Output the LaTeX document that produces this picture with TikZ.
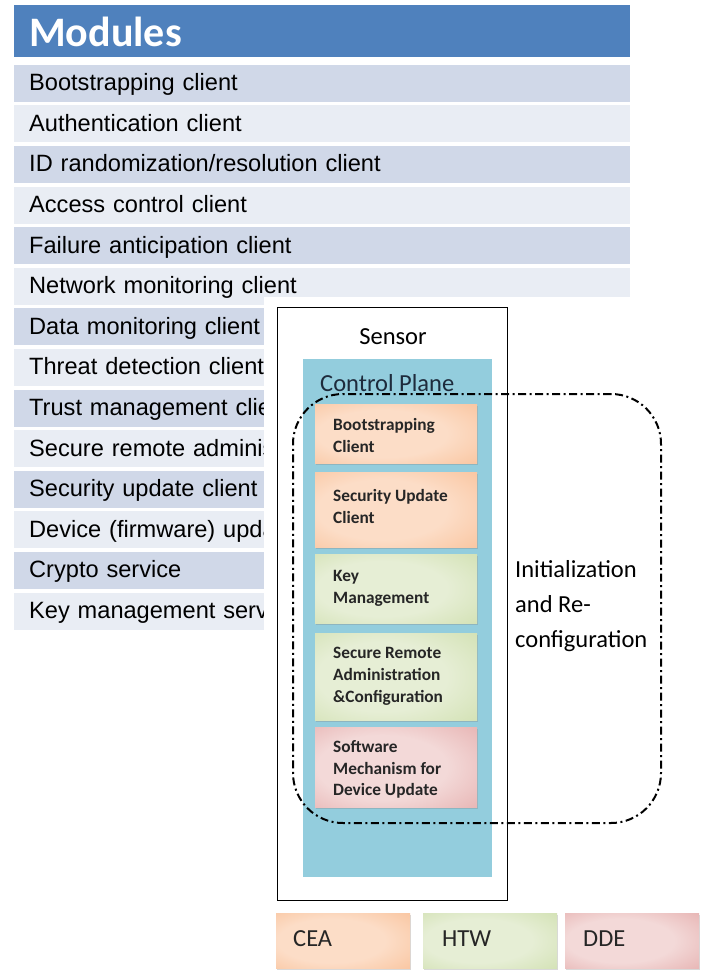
\documentclass[tikz,border=0pt]{standalone}
\usepackage{fontspec}
\setmainfont{Liberation Sans}
\newfontfamily\calibri{Carlito}
\usetikzlibrary{shadows}
\definecolor{hdrblue}{HTML}{4F81BD}
\definecolor{rowdark}{HTML}{D0D8E8}
\definecolor{rowlight}{HTML}{E9EDF4}
\definecolor{panelblue}{HTML}{93CDDD}
\definecolor{navytext}{HTML}{1E2B3C}
\definecolor{orgdark}{HTML}{F5A670}
\definecolor{orgmid}{HTML}{F9C199}
\definecolor{orglight}{HTML}{FCDDC7}
\definecolor{grndark}{HTML}{B7CD8B}
\definecolor{grnmid}{HTML}{CFDFAE}
\definecolor{grnlight}{HTML}{E6EED5}
\definecolor{reddark}{HTML}{D38583}
\definecolor{redmid}{HTML}{E5AEAD}
\definecolor{redlight}{HTML}{F3D9D8}
% soft glow fills: light centre, darker rim
\pgfdeclareradialshading{orgglow}{\pgfpoint{-6bp}{0bp}}{color(0bp)=(orglight); color(20bp)=(orglight); color(42bp)=(orgmid); color(52bp)=(orgdark); color(72bp)=(orgdark)}
\pgfdeclareradialshading{grnglow}{\pgfpoint{-6bp}{0bp}}{color(0bp)=(grnlight); color(20bp)=(grnlight); color(42bp)=(grnmid); color(52bp)=(grndark); color(72bp)=(grndark)}
\pgfdeclareradialshading{redglow}{\pgfpoint{-6bp}{0bp}}{color(0bp)=(redlight); color(20bp)=(redlight); color(42bp)=(redmid); color(52bp)=(reddark); color(72bp)=(reddark)}
\begin{document}
\begin{tikzpicture}[x=1pt,y=-1pt,
  modrow/.style={anchor=north west, minimum width=616pt, minimum height=37pt,
    text width=586pt, inner xsep=15pt, inner ysep=0pt, align=left,
    text height=16pt, text depth=1pt,
    font=\fontsize{23.6}{27}\selectfont},
  modbox/.style={anchor=north west, minimum width=162pt, inner sep=0pt, shading=#1,
    drop shadow={shadow xshift=1pt, shadow yshift=-1.5pt, opacity=0.3}},
  boxtext/.style={anchor=north west, inner sep=0pt, align=left,
    font=\calibri\bfseries\fontsize{17.3}{21.8}\selectfont, text=black!85},
  legendbox/.style={anchor=north west, minimum width=134pt, minimum height=55pt,
    inner sep=0pt, shading=#1,
    drop shadow={shadow xshift=1pt, shadow yshift=-1.5pt, opacity=0.3}},
  legendtext/.style={anchor=base west, inner sep=0pt,
    font=\calibri\fontsize{24.5}{28}\selectfont, text=black!85},
  dashdot/.style={draw=black, line width=2pt,
    dash pattern=on 8pt off 3.5pt on 2pt off 3.5pt}]
\useasboundingbox (0,0) rectangle (702,970);

% module list: header and alternating rows
\node (hdr) [anchor=north west, fill=hdrblue, minimum width=616pt, minimum height=52pt,
  text width=586pt, inner xsep=15pt, inner ysep=0pt, align=left,
  text height=30pt, text depth=0pt, text=white,
  font=\calibri\bfseries\fontsize{42}{48}\selectfont] at (14,5) {Modules};
\foreach \t [count=\i] in {Bootstrapping client, Authentication client,
    ID randomization/resolution client, Access control client,
    Failure anticipation client, Network monitoring client,
    Data monitoring client, Threat detection client,
    Trust management client, Secure remote administration client,
    Security update client, Device (firmware) update client,
    Crypto service, Key management service}{
  \ifodd\i\def\rowcol{rowdark}\else\def\rowcol{rowlight}\fi
  \node (row\i) [modrow, fill=\rowcol] at (14,{64.5+40.6*(\i-1)}) {\t};
}

% white ground of the sensor drawing
\fill[white] (264,297) rectangle (702,970);

% sensor and its control plane
\node (sensor) [draw=black, line width=1.2pt, anchor=north west,
  minimum width=230pt, minimum height=593pt, inner sep=0pt] at (277,307) {};
\node (sensorlbl) [anchor=base, inner sep=0pt,
  font=\calibri\fontsize{24.5}{28}\selectfont] at (393,344) {Sensor};
\node (panel) [fill=panelblue, anchor=north west, minimum width=189pt,
  minimum height=518pt, inner sep=0pt] at (303,359) {};
\node (cplabel) [anchor=base west, inner sep=0pt, text=navytext,
  font=\calibri\fontsize{24.5}{28}\selectfont] at (320,391) {Control Plane};

% functional blocks
\node (boot)    [modbox=orgglow, minimum height=59pt] at (315,404) {};
\node (secupd)  [modbox=orgglow, minimum height=75pt] at (315,472) {};
\node (keymgmt) [modbox=grnglow, minimum height=69pt] at (315,554) {};
\node (remadm)  [modbox=grnglow, minimum height=87pt] at (315,633) {};
\node (swmech)  [modbox=redglow, minimum height=80pt] at (315,727) {};

\node (boottxt)    [boxtext] at (333,418) {Bootstrapping\\Client};
\node (secupdtxt)  [boxtext] at (333,489) {Security Update\\Client};
\node (keymgmttxt) [boxtext] at (333,570) {Key\\Management};
\node (remadmtxt)  [boxtext] at (333,647) {Secure Remote\\Administration\\\&Configuration};
\node (swmechtxt)  [boxtext] at (333,740) {Software\\Mechanism for\\Device Update};

% initialization group
\node (initgroup) [dashdot, rounded corners=50pt, anchor=north west,
  minimum width=368pt, minimum height=429pt, inner sep=0pt] at (292,393) {};
\node (initlbl) [anchor=north west, inner sep=0pt, align=left,
  font=\calibri\fontsize{24.5}{35}\selectfont] at (515,560)
  {Initialization\\and Re-\\configuration};

% partner legend
\node (cea) [legendbox=orgglow] at (276,913) {};
\node (htw) [legendbox=grnglow] at (423,913) {};
\node (dde) [legendbox=redglow] at (565,913) {};
\node (ceatxt) [legendtext] at (293,946) {CEA};
\node (htwtxt) [legendtext] at (442,946) {HTW};
\node (ddetxt) [legendtext] at (583,946) {DDE};
\end{tikzpicture}
\end{document}
